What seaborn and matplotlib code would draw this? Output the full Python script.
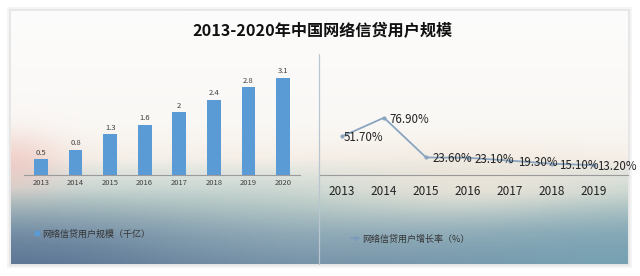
import numpy as np
import pandas as pd
import matplotlib
matplotlib.use("Agg")
import matplotlib.pyplot as plt
from matplotlib.lines import Line2D
from matplotlib.patches import Rectangle
import seaborn as sns

# ---- data ----
years_bar = ["2013", "2014", "2015", "2016", "2017", "2018", "2019", "2020"]
users = [0.5, 0.8, 1.3, 1.6, 2.0, 2.4, 2.8, 3.1]
years_line = [2013, 2014, 2015, 2016, 2017, 2018, 2019]
growth = [51.7, 76.9, 23.6, 23.1, 19.3, 15.1, 13.2]
title = "2013-2020年中国网络信贷用户规模"
legend_bar = "网络信贷用户规模（千亿）"
legend_line = "网络信贷用户增长率（%）"

sns.set_theme(style="white")
plt.rcParams['font.family'] = ['Noto Sans CJK SC', 'DejaVu Sans']
plt.rcParams['axes.unicode_minus'] = False

W, H = 640, 276
fig = plt.figure(figsize=(W / 100, H / 100), dpi=100, facecolor="white")

def fx(px):
    return px / W

def fy(py):
    return 1 - py / H

# ---- card background (soft gradient) ----
cx0, cy0, cx1, cy1 = 11, 11, 628, 264
for d, c in [(4, "#f4f4f4"), (2, "#e6e6e6")]:
    sh = fig.add_axes([fx(cx0 - d), fy(cy1 + d), fx(cx1 - cx0 + 2 * d), (cy1 - cy0 + 2 * d) / H])
    sh.set_axis_off()
    sh.add_patch(Rectangle((0, 0), 1, 1, transform=sh.transAxes,
                           facecolor=c, edgecolor="none"))

bg = fig.add_axes([fx(cx0), fy(cy1), fx(cx1 - cx0), (cy1 - cy0) / H])
bg.set_axis_off()
nh, nw = 200, 400
v = np.linspace(0, 1, nh)[:, None] * np.ones((1, nw))
u = np.ones((nh, 1)) * np.linspace(0, 1, nw)[None, :]

stops_v = [0.0, 0.45, 0.58, 0.66, 0.76, 0.88, 1.0]
stops_c = np.array([(252, 252, 252), (250, 248, 245), (246, 240, 233),
                    (216, 224, 219), (184, 203, 200), (146, 172, 184),
                    (122, 150, 170)], dtype=float)
img = np.zeros((nh, nw, 3))
for k in range(3):
    img[..., k] = np.interp(v, stops_v, stops_c[:, k])

def blend(img, color, w):
    c = np.array(color, dtype=float)
    return img * (1 - w[..., None]) + c * w[..., None]

# warm glow on the right-middle
w = 0.75 * np.exp(-(((u - 0.75) / 0.22) ** 2 + ((v - 0.68) / 0.12) ** 2))
img = blend(img, (240, 230, 218), w)
# pink on the left
w = 0.65 * np.exp(-(((u - 0.0) / 0.08) ** 2 + ((v - 0.61) / 0.12) ** 2))
img = blend(img, (238, 192, 186), w)
# dark slate bottom-left
w = 0.8 * np.exp(-(((u - 0.0) / 0.3) ** 2)) * np.clip((v - 0.7) / 0.3, 0, 1)
img = blend(img, (88, 112, 145), w)
# teal bottom-right
w = 0.7 * np.exp(-(((u - 1.0) / 0.3) ** 2)) * np.clip((v - 0.72) / 0.28, 0, 1)
img = blend(img, (118, 166, 182), w)

bg.imshow(np.clip(img, 0, 255).astype(np.uint8), aspect="auto",
          extent=[0, 1, 0, 1], interpolation="bilinear")
bg.set_xlim(0, 1)
bg.set_ylim(0, 1)

# title
fig.text(fx(322), fy(31), title, ha="center", va="center", fontsize=11.6,
         fontweight="bold", color="#111111",
         family=['Noto Sans CJK SC', 'DejaVu Sans'])

# divider
fig.add_artist(Line2D([fx(319), fx(319)], [fy(54), fy(264)], color="#b9c6cf", lw=0.9))

# ---- left: bar chart ----
base = 175
px_per_unit = 31.3
top_px = 65
axL = fig.add_axes([fx(23.7), fy(base), fx(300.3 - 23.7), (base - top_px) / H])
axL.patch.set_alpha(0)
df_bar = pd.DataFrame({"year": years_bar, "users": users})
sns.barplot(data=df_bar, x="year", y="users", color="#5b9bd5", width=0.4,
            saturation=1, ax=axL, edgecolor="none", linewidth=0)
axL.set_xlim(-0.5, 7.5)
axL.set_ylim(0, (base - top_px) / px_per_unit)
axL.bar_label(axL.containers[0], labels=[f"{x:g}" for x in users],
              padding=2, fontsize=5.5, color="#404040")
axL.set_xlabel("")
axL.set_ylabel("")
axL.set_yticks([])
axL.tick_params(axis="x", length=0, pad=3, labelsize=5.5, labelcolor="#404040")
for s in ["top", "right", "left"]:
    axL.spines[s].set_visible(False)
axL.spines["bottom"].set_color("#9a9a9a")
axL.spines["bottom"].set_linewidth(0.8)
hL = Line2D([], [], marker="s", color="#5b9bd5", markersize=3.5, linestyle="none")
axL.legend([hL], [legend_bar], loc="center left",
           bbox_to_anchor=(fx(33), fy(234)), bbox_transform=fig.transFigure,
           frameon=False, fontsize=6.5,
           handlelength=0.8, handletextpad=0.2, borderaxespad=0, borderpad=0,
           labelcolor="#333333")

# ---- right: line chart ----
r_px_per_unit = 0.745
axR = fig.add_axes([fx(320), fy(base), fx(628 - 320), (base - top_px) / H])
axR.patch.set_alpha(0)
df_line = pd.DataFrame({"year": years_line, "growth": growth})
sns.lineplot(data=df_line, x="year", y="growth", ax=axR, color="#8aa5c0",
             linewidth=1.3, marker="o", markersize=3, markeredgewidth=0)
step = 42
axR.set_xlim(2013 + (320 - 342) / step, 2013 + (628 - 342) / step)
axR.set_ylim(0, (base - top_px) / r_px_per_unit)
label_dx = [1, 4, 5, 5, 6, 5, 2]
for xv, yv, dx in zip(years_line, growth, label_dx):
    axR.annotate(f"{yv:.2f}%", (xv, yv), xytext=(dx, -1), textcoords="offset points",
                 ha="left", va="center", fontsize=8.3, color="#222222")
axR.set_xticks(years_line)
axR.set_xticklabels([str(y) for y in years_line])
axR.set_xlabel("")
axR.set_ylabel("")
axR.set_yticks([])
axR.tick_params(axis="x", length=0, pad=7, labelsize=8.5, labelcolor="#222222")
for s in ["top", "right", "left"]:
    axR.spines[s].set_visible(False)
axR.spines["bottom"].set_color("#9a9a9a")
axR.spines["bottom"].set_linewidth(0.8)
hR = Line2D([], [], marker="o", color="#7d9cbc", markersize=2.5, lw=1.2)
axR.legend([hR], [legend_line], loc="center left",
           bbox_to_anchor=(fx(351), fy(239)), bbox_transform=fig.transFigure,
           frameon=False, fontsize=6.5,
           handlelength=1.0, handletextpad=0.25, borderaxespad=0, borderpad=0,
           labelcolor="#333333")

fig.savefig("out.png", dpi=100, facecolor="white")
